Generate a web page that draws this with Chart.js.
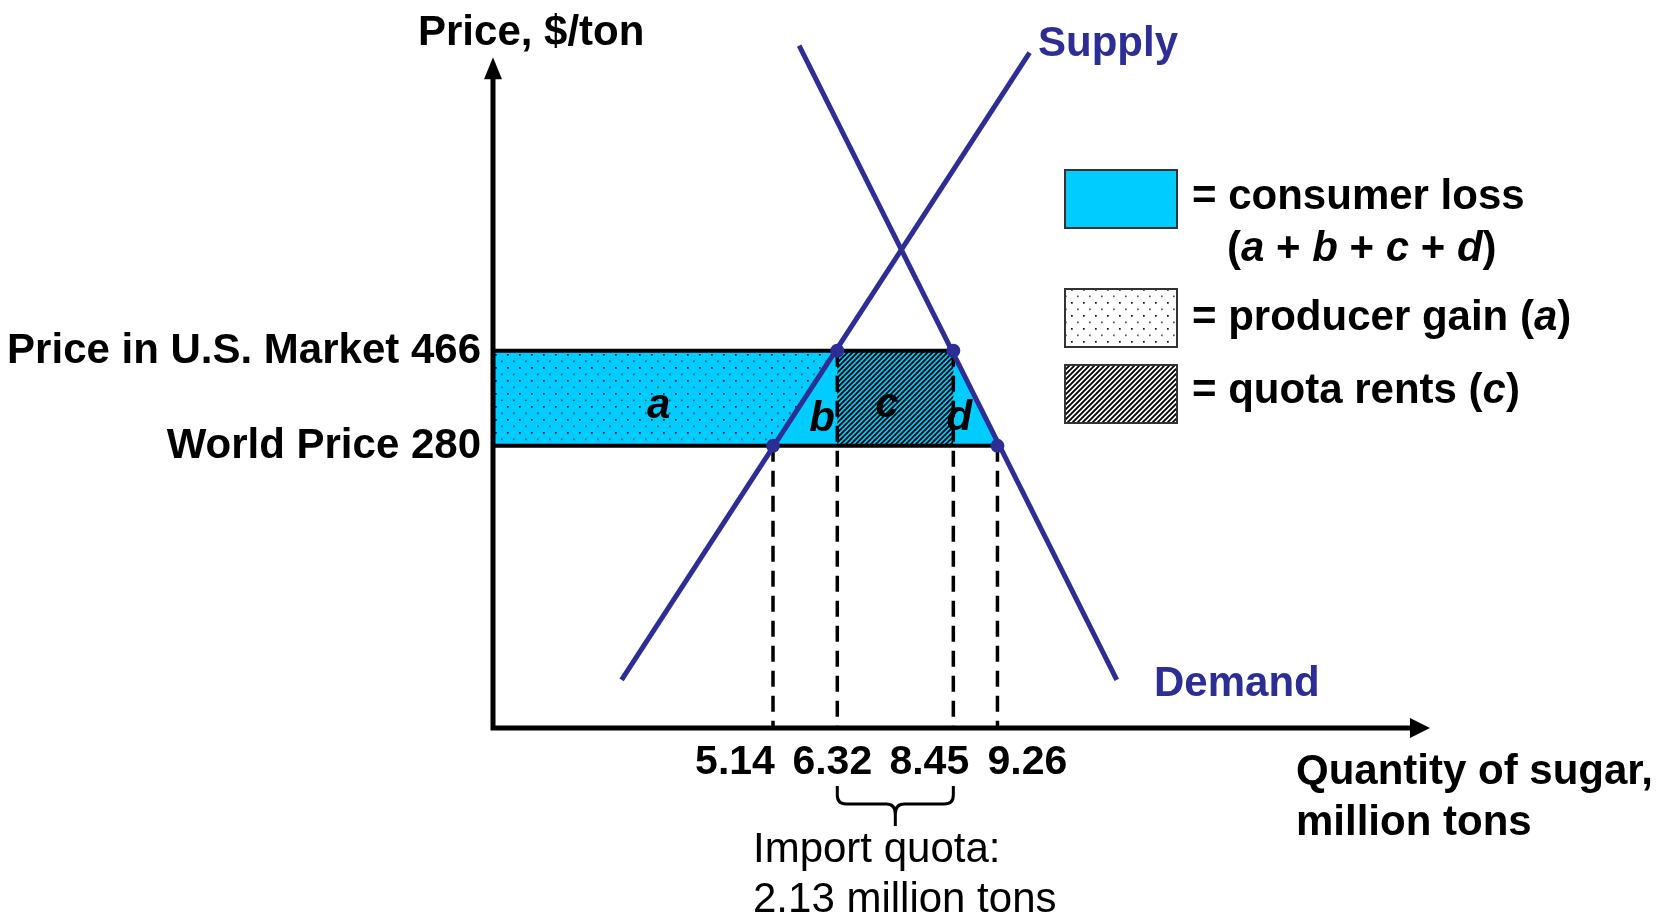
<!DOCTYPE html>
<html lang="en">
<head>
<meta charset="UTF-8">
<title>Sugar import quota</title>
<script src="https://cdn.jsdelivr.net/npm/chart.js"></script>
<style>
  html, body { margin: 0; padding: 0; background: #fff; }
  canvas { display: block; }
</style>
</head>
<body>
<canvas id="quotaChart" width="1673" height="920"></canvas>
<script>
// prices ($/ton) and quantities (million tons)
const priceLevels = [280, 466];
const priceLabels = ['World Price 280', 'Price in U.S. Market 466'];
const quantities = [5.14, 6.32, 8.45, 9.26];
const quantityLabels = ['5.14', '6.32', '8.45', '9.26'];
const quantityPrices = [280, 466, 466, 280];   // price where each quantity is marked

// end points of the two curves
const supplyX = [2.36, 9.85];
const supplyY = [-178, 1049];
const demandX = [5.62, 11.45];
const demandY = [1063, -178];

// letters naming the areas, placed in data units
const areaLetters = ['a', 'b', 'c', 'd'];
const areaX = [3.04, 6.04, 7.23, 8.56];
const areaY = [335, 309, 337, 311];

// axis ranges (the diagram has no real zero on the price axis)
const qMin = 0, qMax = 17.2;
const pMin = -272, pMax = 1070, pArrow = 1040;

const BLUE = '#00ccff';
const LINE = '#2d2d96';
const FONT = '"Liberation Sans", Arial, sans-serif';

const canvas = document.getElementById('quotaChart');
const ctx = canvas.getContext('2d');

// dotted fill for producer gain
function makeDots(bg) {
    const c = document.createElement('canvas');
    c.width = 12; c.height = 13;
    const g = c.getContext('2d');
    if (bg) { g.fillStyle = bg; g.fillRect(0, 0, 12, 13); }
    g.fillStyle = '#111';
    g.fillRect(3, 3, 1.7, 1.7);
    g.fillStyle = '#555';
    g.fillRect(9, 9.5, 1.7, 1.7);
    return ctx.createPattern(c, 'repeat');
}

// diagonal hatch for quota rents
function makeHatch(bg) {
    const s = 5;
    const c = document.createElement('canvas');
    c.width = s; c.height = s;
    const g = c.getContext('2d');
    if (bg) { g.fillStyle = bg; g.fillRect(0, 0, s, s); }
    g.strokeStyle = '#000';
    g.lineWidth = 1.9;
    g.beginPath();
    g.moveTo(0, s); g.lineTo(s, 0);
    g.moveTo(-1, 1); g.lineTo(1, -1);
    g.moveTo(s - 1, s + 1); g.lineTo(s + 1, s - 1);
    g.stroke();
    return ctx.createPattern(c, 'repeat');
}

const [pLow, pHigh] = priceLevels;
const pt = (x, y) => ({ x, y });

function area(points, fill, order) {
    return {
        data: points.concat([points[0]]),
        fill: 'shape',
        backgroundColor: fill,
        borderWidth: 0,
        pointRadius: 0,
        order: order
    };
}

function line(points, color, width, dash, order) {
    return {
        data: points,
        fill: false,
        borderColor: color,
        borderWidth: width,
        borderDash: dash || [],
        pointRadius: 0,
        order: order
    };
}

const datasets = [
    // consumer loss a+b+c+d
    area([pt(qMin, pLow), pt(qMin, pHigh), pt(quantities[2], pHigh), pt(quantities[3], pLow)], BLUE, 20),
    // producer gain a
    area([pt(qMin, pLow), pt(qMin, pHigh), pt(quantities[1], pHigh), pt(quantities[0], pLow)], makeDots(), 19),
    // quota rents c
    area([pt(quantities[1], pLow), pt(quantities[1], pHigh), pt(quantities[2], pHigh), pt(quantities[2], pLow)], makeHatch(), 18),
    // price lines
    line([pt(qMin, pHigh), pt(quantities[2], pHigh)], '#000', 4, null, 12),
    line([pt(qMin, pLow), pt(quantities[3], pLow)], '#000', 4, null, 12)
];

// dashed drop lines to the quantity axis
quantities.forEach((q, i) => {
    datasets.push(line([pt(q, quantityPrices[i]), pt(q, pMin)], '#000', 3.5, [16, 9], 11));
});

datasets.push(line(supplyX.map((x, i) => pt(x, supplyY[i])), LINE, 5, null, 5));
datasets.push(line(demandX.map((x, i) => pt(x, demandY[i])), LINE, 5, null, 5));

datasets.push({
    data: quantities.map((q, i) => pt(q, quantityPrices[i])),
    showLine: false,
    pointRadius: 7,
    pointBackgroundColor: LINE,
    pointBorderWidth: 0,
    order: 1
});

// draw a string made of [text, italic] runs
function runs(c, parts, x, y, size) {
    let cx = x;
    parts.forEach(([s, it]) => {
        c.font = (it ? 'italic ' : '') + 'bold ' + size + 'px ' + FONT;
        c.fillText(s, cx, y);
        cx += c.measureText(s).width;
    });
}

const diagramPlugin = {
    id: 'diagram',
    afterDatasetsDraw(chart) {
        const c = chart.ctx;
        const xs = chart.scales.x, ys = chart.scales.y;
        const x0 = xs.getPixelForValue(qMin);
        const y0 = ys.getPixelForValue(pMin);
        const xEnd = xs.getPixelForValue(qMax);
        const yEnd = ys.getPixelForValue(pArrow);

        c.save();
        // axes with arrow heads
        c.strokeStyle = '#000';
        c.fillStyle = '#000';
        c.lineWidth = 5;
        c.beginPath();
        c.moveTo(x0, y0 + 2.5);
        c.lineTo(x0, yEnd + 15);
        c.moveTo(x0 - 2.5, y0);
        c.lineTo(xEnd - 15, y0);
        c.stroke();
        c.beginPath();
        c.moveTo(x0, yEnd);
        c.lineTo(x0 - 9, yEnd + 22);
        c.lineTo(x0 + 9, yEnd + 22);
        c.closePath();
        c.fill();
        c.beginPath();
        c.moveTo(xEnd, y0);
        c.lineTo(xEnd - 20, y0 - 10);
        c.lineTo(xEnd - 20, y0 + 10);
        c.closePath();
        c.fill();

        // price labels
        c.font = 'bold 42px ' + FONT;
        c.textAlign = 'right';
        c.textBaseline = 'alphabetic';
        priceLevels.forEach((p, i) => {
            c.fillText(priceLabels[i], x0 - 12, ys.getPixelForValue(p) + 12);
        });

        // quantity labels, nudged apart so they do not collide
        const shift = [-38, -5, -24, 30];
        c.textAlign = 'center';
        c.font = 'bold 41px ' + FONT;
        quantities.forEach((q, i) => {
            c.fillText(quantityLabels[i], xs.getPixelForValue(q) + shift[i], y0 + 46);
        });

        // area letters
        c.font = 'italic bold 42px ' + FONT;
        areaLetters.forEach((s, i) => {
            c.fillText(s, xs.getPixelForValue(areaX[i]), ys.getPixelForValue(areaY[i]));
        });

        // axis titles
        c.textAlign = 'left';
        c.font = 'bold 42px ' + FONT;
        c.fillText('Price, $/ton', 418, 45);
        c.fillText('Quantity of sugar,', 1296, 784);
        c.fillText('million tons', 1296, 835);

        c.fillStyle = LINE;
        c.fillText('Supply', 1038, 56);
        c.fillText('Demand', 1154, 696);

        // brace under the import quota
        const b1 = xs.getPixelForValue(quantities[1]);
        const b2 = xs.getPixelForValue(quantities[2]);
        const mid = (b1 + b2) / 2;
        const top = 786, bar = 804;
        c.strokeStyle = '#000';
        c.lineWidth = 3;
        c.beginPath();
        c.moveTo(b1, top);
        c.lineTo(b1, bar - 9);
        c.quadraticCurveTo(b1, bar, b1 + 9, bar);
        c.lineTo(mid - 9, bar);
        c.quadraticCurveTo(mid, bar, mid, bar + 10);
        c.lineTo(mid, bar + 22);
        c.moveTo(mid, bar + 10);
        c.quadraticCurveTo(mid, bar, mid + 9, bar);
        c.lineTo(b2 - 9, bar);
        c.quadraticCurveTo(b2, bar, b2, bar - 9);
        c.lineTo(b2, top);
        c.stroke();

        c.fillStyle = '#000';
        c.font = '42px ' + FONT;
        c.fillText('Import quota:', 753, 862);
        c.fillText('2.13 million tons', 753, 912);

        // legend
        const boxes = [
            [170, BLUE],
            [289, makeDots('#fff')],
            [365, makeHatch('#fff')]
        ];
        boxes.forEach(([by, fill]) => {
            c.fillStyle = fill;
            c.fillRect(1065, by, 112, 58);
            c.strokeStyle = '#333';
            c.lineWidth = 2;
            c.strokeRect(1065, by, 112, 58);
        });
        c.fillStyle = '#000';
        runs(c, [['= consumer loss', false]], 1192, 209, 42);
        runs(c, [['(', false], ['a', true], [' + ', false], ['b', true], [' + ', false],
                 ['c', true], [' + ', false], ['d', true], [')', false]], 1227, 261, 42);
        runs(c, [['= producer gain (', false], ['a', true], [')', false]], 1192, 330, 42);
        runs(c, [['= quota rents (', false], ['c', true], [')', false]], 1192, 403, 42);

        c.restore();
    }
};

new Chart(ctx, {
    type: 'line',
    data: { datasets: datasets },
    options: {
        responsive: false,
        animation: false,
        devicePixelRatio: 1,
        events: [],
        layout: { padding: { left: 493, right: 243, top: 42, bottom: 192 } },
        elements: { line: { tension: 0 } },
        scales: {
            x: { type: 'linear', min: qMin, max: qMax, display: false },
            y: { type: 'linear', min: pMin, max: pMax, display: false }
        },
        plugins: {
            legend: { display: false },
            tooltip: { enabled: false }
        }
    },
    plugins: [diagramPlugin]
});
</script>
</body>
</html>
